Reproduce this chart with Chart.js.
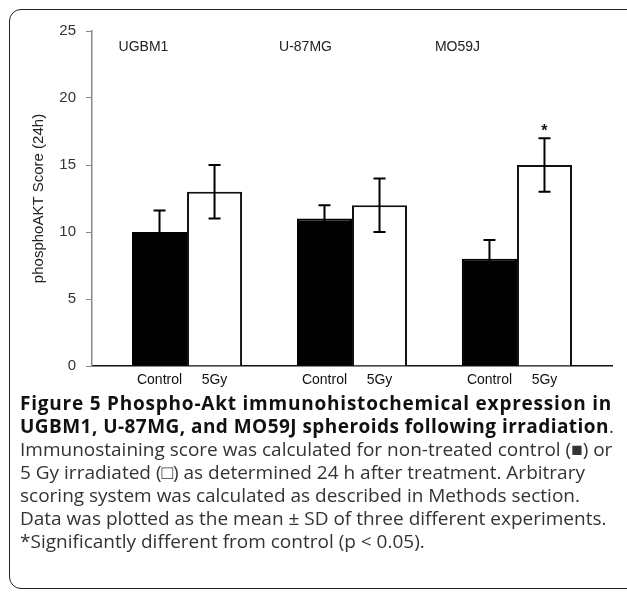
<!DOCTYPE html>
<html>
<head>
<meta charset="utf-8">
<script src="https://cdn.jsdelivr.net/npm/chart.js@4.4.0/dist/chart.umd.min.js"></script>
<style>
  html, body { margin: 0; background: #fff; overflow: hidden; }
  #page { position: relative; width: 627px; height: 593px; overflow: hidden; }
  #frame { position: absolute; left: 9px; top: 9px; width: 660px; height: 580px; border: 1.5px solid #222; border-radius: 12px; box-sizing: border-box; }
  #wrap { position: absolute; left: 0; top: 0; width: 627px; height: 395px; }
  #caption { position: absolute; left: 20px; top: 392px; white-space: nowrap; font-family: "Open Sans", sans-serif; font-size: 19px; line-height: 23px; color: #333; }
  #caption b { color: #111; }
  #caption .l1 { letter-spacing: 0.78px; }
  #caption .l2 { letter-spacing: 0.45px; }
</style>
</head>
<body>
<div id="page">
<div id="frame"></div>
<div id="wrap"><canvas id="chart"></canvas></div>
<div id="caption">
  <b class="l1">Figure 5 Phospho-Akt immunohistochemical expression in</b><br>
  <b class="l2">UGBM1, U-87MG, and MO59J spheroids following irradiation</b>.<br>
  Immunostaining score was calculated for non-treated control (■) or<br>
  5 Gy irradiated (□) as determined 24 h after treatment. Arbitrary<br>
  scoring system was calculated as described in Methods section.<br>
  Data was plotted as the mean ± SD of three different experiments.<br>
  *Significantly different from control (p &lt; 0.05).
</div>
</div>
<script>
// Données
const cellLines = ['UGBM1', 'U-87MG', 'MO59J'];
const treatments = ['Control', '5Gy'];
const controlValues = [10, 11, 8];
const controlSD = [1.6, 1, 1.4];
const irradiatedValues = [13, 12, 15];
const irradiatedSD = [2, 2, 2];
const significant = [false, false, true];
const yTicks = [0, 5, 10, 15, 20, 25];

// Décalage des noms de lignées par rapport à la barre Control
const groupLabelShift = [-16, -19, -32];

const toPoints = vals => vals.map((v, i) => ({ x: i + 1, y: v }));

// Barres d'erreur, étoile, libellés Control / 5Gy et noms des lignées
const annotations = {
    id: 'annotations',
    afterDatasetsDraw(chart) {
        const ctx = chart.ctx;
        const y = chart.scales.y;
        const sds = [controlSD, irradiatedSD];
        ctx.save();
        chart.data.datasets.forEach((ds, d) => {
            const meta = chart.getDatasetMeta(d);
            meta.data.forEach((bar, i) => {
                const v = ds.data[i].y;
                const top = y.getPixelForValue(v + sds[d][i]);
                const bot = y.getPixelForValue(v - sds[d][i]);
                ctx.strokeStyle = '#000';
                ctx.lineWidth = 2;
                ctx.beginPath();
                ctx.moveTo(bar.x, top); ctx.lineTo(bar.x, bot);
                ctx.moveTo(bar.x - 6, top); ctx.lineTo(bar.x + 6, top);
                ctx.moveTo(bar.x - 6, bot); ctx.lineTo(bar.x + 6, bot);
                ctx.stroke();

                if (d === 1 && significant[i]) {
                    ctx.fillStyle = '#111';
                    ctx.font = 'bold 16px "Liberation Sans", Arial';
                    ctx.textAlign = 'center';
                    ctx.textBaseline = 'bottom';
                    ctx.fillText('*', bar.x, top + 1);
                }

                // libellé sous la barre
                ctx.fillStyle = '#111';
                ctx.font = '14px "Liberation Sans", Arial';
                ctx.textAlign = 'center';
                ctx.textBaseline = 'middle';
                ctx.fillText(treatments[d], bar.x, y.bottom + 14);

                if (d === 0) {
                    ctx.font = '14px "Liberation Sans", Arial';
                    ctx.fillStyle = '#222';
                    ctx.fillText(cellLines[i], bar.x + groupLabelShift[i], y.getPixelForValue(23.8));
                }
            });
        });
        ctx.restore();
    }
};

const chart = new Chart(document.getElementById('chart'), {
    type: 'bar',
    data: {
        datasets: [
            { label: treatments[0], data: toPoints(controlValues), backgroundColor: '#000', borderColor: '#000', borderWidth: 2 },
            { label: treatments[1], data: toPoints(irradiatedValues), backgroundColor: '#fff', borderColor: '#111', borderWidth: 2 }
        ]
    },
    options: {
        responsive: true,
        maintainAspectRatio: false,
        animation: false,
        categoryPercentage: 0.667,
        barPercentage: 1,
        layout: { padding: { top: 31, right: 15, left: 0, bottom: 0 } },
        plugins: { legend: { display: false }, tooltip: { enabled: false } },
        scales: {
            x: {
                type: 'linear',
                offset: false,
                min: 0.424,
                max: 3.576,
                afterBuildTicks: s => { s.ticks = cellLines.map((c, i) => ({ value: i + 1 })); },
                grid: { display: false },
                border: { display: true, color: '#111', width: 1.5 },
                ticks: { display: false },
                afterFit: s => { s.height = 29; }
            },
            y: {
                min: 0,
                max: 25,
                afterBuildTicks: s => { s.ticks = yTicks.map(v => ({ value: v })); },
                grid: { drawOnChartArea: false, drawTicks: true, tickLength: 6, color: '#888' },
                border: { display: true, color: '#888', width: 1.5 },
                ticks: { color: '#333', padding: 10, font: { family: '"Liberation Sans", Arial', size: 15 } },
                title: {
                    display: true,
                    text: 'phosphoAKT Score (24h)',
                    color: '#222',
                    font: { family: '"Liberation Sans", Arial', size: 15 },
                    padding: { top: 30, bottom: 0 }
                },
                afterFit: s => { s.width = 92; }
            }
        }
    },
    plugins: [annotations]
});
</script>
</body>
</html>
